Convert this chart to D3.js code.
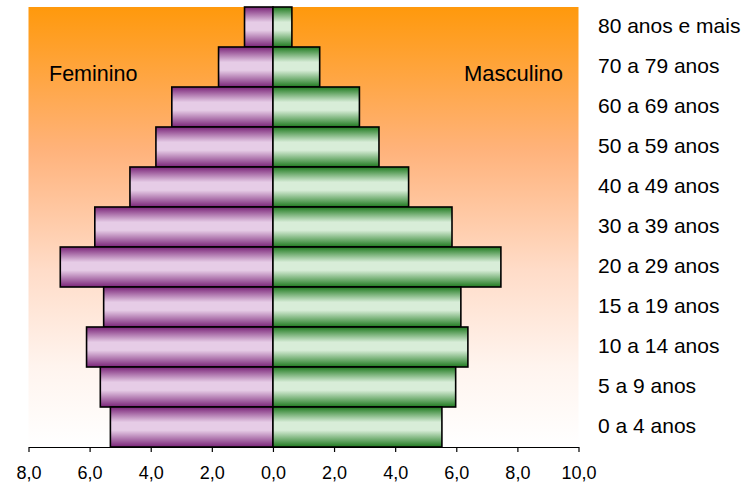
<!DOCTYPE html>
<html>
<head>
<meta charset="utf-8">
<script src="https://cdn.jsdelivr.net/npm/d3@7"></script>
<style>
  html, body { margin: 0; padding: 0; background: #ffffff; }
  svg { display: block; font-family: "Liberation Sans", Arial, sans-serif; }
</style>
</head>
<body>
<svg id="chart" width="752" height="487"></svg>
<script>
const categories = ["80 anos e mais","70 a 79 anos","60 a 69 anos","50 a 59 anos","40 a 49 anos","30 a 39 anos","20 a 29 anos","15 a 19 anos","10 a 14 anos","5 a 9 anos","0 a 4 anos"];
const feminino = [0.93, 1.78, 3.31, 3.83, 4.68, 5.83, 6.96, 5.54, 6.10, 5.65, 5.32];
const masculino = [0.62, 1.53, 2.83, 3.47, 4.44, 5.86, 7.46, 6.15, 6.38, 5.98, 5.53];
const tickValues = [-8, -6, -4, -2, 0, 2, 4, 6, 8, 10];
const seriesNames = ["Feminino", "Masculino"];

const svg = d3.select("#chart");
const plotL = 28.5, plotR = 578.5, plotT = 7, plotB = 447;

const x = d3.scaleLinear().domain([-8, 10]).range([plotL, plotR]);
const y = d3.scaleBand().domain(categories).range([plotT, plotB]).padding(0);

const defs = svg.append("defs");
const bg = defs.append("linearGradient").attr("id", "bg").attr("x1", 0).attr("y1", 0).attr("x2", 0).attr("y2", 1);
[[0, "#FF990C"], [0.33, "#FFB37C"], [0.6, "#FFDCC8"], [0.82, "#FFF4EE"], [1, "#FFFFFF"]].forEach(([o, c]) =>
  bg.append("stop").attr("offset", o).attr("stop-color", c));

function barGrad(id, dark, light) {
  const g = defs.append("linearGradient").attr("id", id).attr("x1", 0).attr("y1", 0).attr("x2", 0).attr("y2", 1);
  [[0, dark], [0.38, light], [0.58, light], [1, dark]].forEach(([o, c]) =>
    g.append("stop").attr("offset", o).attr("stop-color", c));
}
barGrad("gf", "#7A2478", "#E6CCE6");
barGrad("gm", "#1F7A1F", "#D8EDD8");

svg.append("rect").attr("x", plotL).attr("y", plotT).attr("width", plotR - plotL).attr("height", plotB - plotT - 2)
  .attr("fill", "url(#bg)");

const rows = categories.map((c, i) => ({ c, f: feminino[i], m: masculino[i] }));

svg.append("g").selectAll("rect").data(rows).join("rect")
  .attr("x", d => x(-d.f)).attr("y", d => y(d.c))
  .attr("width", d => x(0) - x(-d.f)).attr("height", y.bandwidth())
  .attr("fill", "url(#gf)").attr("stroke", "#000").attr("stroke-width", 1.6);

svg.append("g").selectAll("rect").data(rows).join("rect")
  .attr("x", x(0)).attr("y", d => y(d.c))
  .attr("width", d => x(d.m) - x(0)).attr("height", y.bandwidth())
  .attr("fill", "url(#gm)").attr("stroke", "#000").attr("stroke-width", 1.6);

const fmt = v => Math.abs(v).toFixed(1).replace(".", ",");
const axis = svg.append("g").attr("transform", `translate(0,${plotB})`)
  .call(d3.axisBottom(x).tickValues(tickValues).tickFormat(fmt).tickSize(5).tickSizeOuter(0));
axis.select(".domain").attr("stroke", "#000").attr("stroke-width", 1.2);
axis.selectAll(".tick line").attr("stroke", "#000").attr("stroke-width", 1.2);
axis.selectAll(".tick text").attr("font-size", 18).attr("font-family", "Liberation Sans, Arial, sans-serif")
  .attr("fill", "#000").attr("y", 0).attr("dy", 0).attr("transform", "translate(0,32)");

svg.append("g").selectAll("text").data(categories).join("text")
  .attr("x", 598).attr("y", d => y(d) + y.bandwidth() / 2 + 5.5)
  .attr("font-size", 21).attr("fill", "#000").text(d => d);

svg.append("text").attr("x", 49).attr("y", 81).attr("font-size", 21.5).attr("fill", "#000").text(seriesNames[0]);
svg.append("text").attr("x", 464).attr("y", 81).attr("font-size", 22).attr("fill", "#000").text(seriesNames[1]);
</script>
</body>
</html>
